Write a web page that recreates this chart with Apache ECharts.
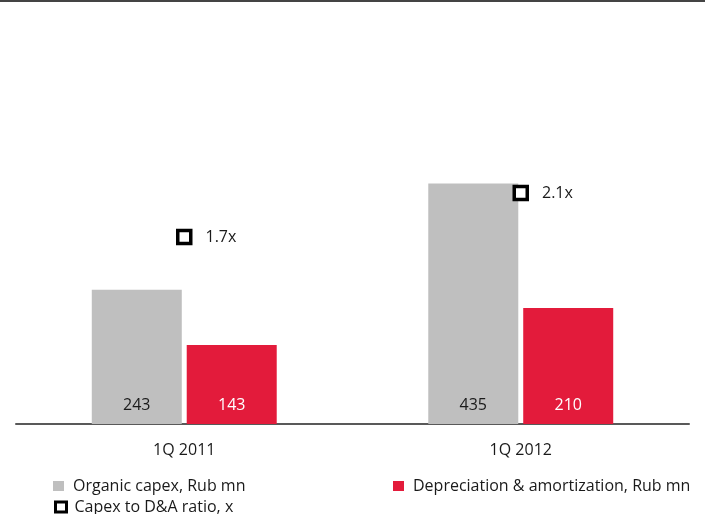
<!DOCTYPE html>
<html>
<head>
<meta charset="utf-8">
<script src="https://cdn.jsdelivr.net/npm/echarts@6/dist/echarts.min.js"></script>
<style>
  html, body { margin: 0; padding: 0; background: #fff; }
  #chart { width: 705px; height: 514px; }
</style>
</head>
<body>
<div id="chart"></div>
<script>
// Quarterly capex vs depreciation, with the coverage ratio
const quarters = ['1Q 2011', '1Q 2012'];
const organicCapex = [243, 435];
const depreciation = [143, 210];
const capexToDA = [1.7, 2.1];

const FONT = '"Open Sans", "Noto Sans", sans-serif';
const GREY = '#BFBFBF';
const RED = '#E31B3B';
const INK = '#1a1a1a';

const chart = echarts.init(document.getElementById('chart'));

const legendText = (pad) => ({
  fontFamily: FONT, fontSize: 16, color: INK, padding: [0, 0, 0, pad]
});

chart.setOption({
  animation: false,
  textStyle: { fontFamily: FONT },
  graphic: [{
    type: 'line',
    shape: { x1: 0, y1: 1, x2: 705, y2: 1 },
    style: { stroke: '#444', lineWidth: 2 }
  }],
  grid: { left: 16, width: 673, top: 37, height: 387 },
  legend: [
    {
      data: [{ name: 'Organic capex, Rub mn', icon: 'rect' }],
      left: 53, top: 478, padding: 0,
      itemWidth: 11, itemHeight: 10,
      textStyle: legendText(4)
    },
    {
      data: [{ name: 'Depreciation & amortization, Rub mn', icon: 'rect' }],
      left: 393, top: 478, padding: 0,
      itemWidth: 11, itemHeight: 10,
      textStyle: legendText(4)
    },
    {
      data: [{ name: 'Capex to D&A ratio, x', icon: 'rect' }],
      left: 54, top: 499, padding: 0,
      itemWidth: 11, itemHeight: 10,
      itemStyle: { color: '#fff', borderColor: '#000', borderWidth: 3 },
      textStyle: legendText(3)
    }
  ],
  xAxis: {
    type: 'category',
    data: quarters,
    axisLine: { lineStyle: { color: '#595959', width: 2 } },
    axisTick: { show: false },
    axisLabel: { fontFamily: FONT, fontSize: 16, color: INK, margin: 18 }
  },
  yAxis: [
    { type: 'value', min: 0, max: 700, show: false },
    { type: 'value', min: 0, max: 3.52, show: false }
  ],
  series: [
    {
      name: 'Organic capex, Rub mn',
      type: 'bar',
      data: organicCapex,
      barWidth: 90,
      barGap: '5.5%',
      itemStyle: { color: GREY },
      label: {
        show: true, position: 'insideBottom', distance: 11,
        fontFamily: FONT, fontSize: 16, color: INK
      }
    },
    {
      name: 'Depreciation & amortization, Rub mn',
      type: 'bar',
      data: depreciation,
      barWidth: 90,
      itemStyle: { color: RED },
      label: {
        show: true, position: 'insideBottom', distance: 11,
        fontFamily: FONT, fontSize: 16, color: '#fff'
      }
    },
    {
      name: 'Capex to D&A ratio, x',
      type: 'line',
      yAxisIndex: 1,
      data: capexToDA,
      symbol: 'rect',
      symbolSize: 13,
      lineStyle: { width: 0, opacity: 0 },
      itemStyle: { color: '#fff', borderColor: '#000', borderWidth: 3.5 },
      label: {
        show: true, position: 'right', distance: 13,
        fontFamily: FONT, fontSize: 16, color: INK,
        formatter: p => p.value.toFixed(1) + 'x'
      },
      z: 5
    }
  ]
});
</script>
</body>
</html>
